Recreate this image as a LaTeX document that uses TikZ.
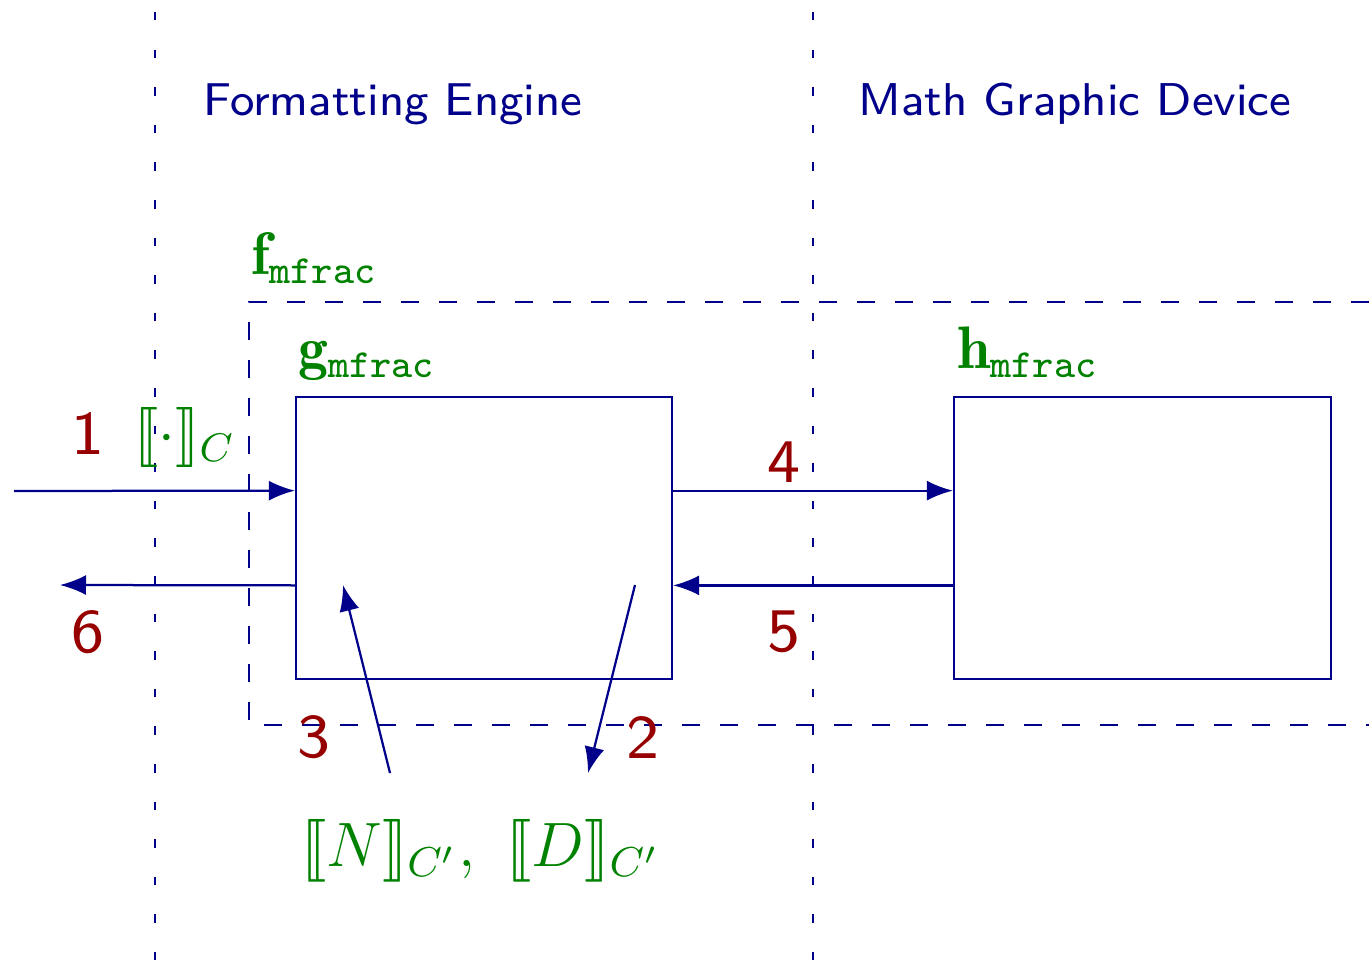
\documentclass[tikz,border=0pt]{standalone}
\usepackage{fontspec}
\usepackage{graphicx}
\usepackage{stmaryrd}
\usetikzlibrary{calc,arrows.meta}
\newfontfamily\sfeight{lmsans8-regular.otf}
\definecolor{navy}{RGB}{0,0,139}
\definecolor{dred}{RGB}{150,0,0}
\definecolor{dgreen}{RGB}{0,130,0}
\tikzset{
  ln/.style={navy, line width=0.45pt},
  arr/.style={ln, -{Latex[length=5.2pt,width=4pt]}},
  box/.style={draw=navy, line width=0.45pt, rectangle, inner sep=0pt, minimum width=75.2pt, minimum height=56.4pt},
  sep/.style={navy, line width=0.45pt, dash pattern=on 1.7pt off 5.82pt, dash phase=5.12pt},
  frame/.style={navy, line width=0.45pt, dash pattern=on 3.6pt off 4pt},
  head/.style={navy, inner sep=0pt, font=\sfeight\fontsize{9.2}{11}\selectfont},
  num/.style={dred, inner sep=0pt, font=\sfeight\fontsize{12.4}{14}\selectfont},
  lab/.style={dgreen, inner sep=0pt, font=\fontsize{12}{14}\selectfont},
}
\begin{document}
\begin{tikzpicture}[x=0.2pt,y=-0.2pt]
\useasboundingbox (0,0) rectangle (1369,959);
% separators
\coordinate (s1t) at (155,0); \coordinate (s1b) at (155,975);
\coordinate (s2t) at (813,0); \coordinate (s2b) at (813,975);
\draw[sep] (s1t) -- (s1b);
\draw[sep] (s2t) -- (s2b);
% headings
\node[head] (fe) at (393,104) {Formatting Engine};
\node[head] (mgd) at (1075,104) {Math Graphic Device};
% dashed frame
\coordinate (fr1) at (1369,302); \coordinate (fr2) at (249,302);
\coordinate (fr3) at (249,725); \coordinate (fr4) at (1369,725);
\draw[frame] (fr1) -- (fr2) -- (fr3) -- (fr4);
% boxes
\node[box] (g) at (484,538) {};
\node[box, minimum width=75.4pt] (h) at (1142.5,538) {};
% labels
\node[lab, anchor=base west] (fl) at (250,275) {$\mathbf{f}_{\mathtt{mfrac}}$};
\node[lab, anchor=base west] (gl) at (297,368) {$\mathbf{g}_{\mathtt{mfrac}}$};
\node[lab, anchor=base west] (hl) at (956,368) {$\mathbf{h}_{\mathtt{mfrac}}$};
% points
\coordinate (gw1) at ($(g.north west)!1/3!(g.south west)$);
\coordinate (gw2) at ($(g.north west)!2/3!(g.south west)$);
\coordinate (ge1) at ($(g.north east)!1/3!(g.south east)$);
\coordinate (ge2) at ($(g.north east)!2/3!(g.south east)$);
\coordinate (hw1) at ($(h.north west)!1/3!(h.south west)$);
\coordinate (hw2) at ($(h.north west)!2/3!(h.south west)$);
\coordinate (in1) at (14,491);
\coordinate (out6) at (60,585);
\coordinate (a3s) at (390,773); \coordinate (a3e) at (343,585);
\coordinate (a2s) at (635,585); \coordinate (a2e) at (588,773);
% arrows
\draw[arr] (in1) -- (gw1);
\draw[arr] (gw2) -- (out6);
\draw[arr] (ge1) -- (hw1);
\draw[arr] (hw2) -- (ge2);
\draw[arr] (a3s) -- (a3e);
\draw[arr] (a2s) -- (a2e);
% numbers
\node[num] (n1) at (88,434) {1};
\node[num] (n6) at (88,632) {6};
\node[num] (n4) at (784,462) {4};
\node[num] (n5) at (784,632) {5};
\node[num] (n3) at (314,737) {3};
\node[num] (n2) at (643,737) {2};
% math labels
\node[lab] (sem) at (185,437) {$\llbracket\cdot\rrbracket_C$};
\node[lab] (nd) at (481,851) {\scalebox{1.045}{$\llbracket N\rrbracket_{C'},\ \llbracket D\rrbracket_{C'}$}};
\end{tikzpicture}
\end{document}
